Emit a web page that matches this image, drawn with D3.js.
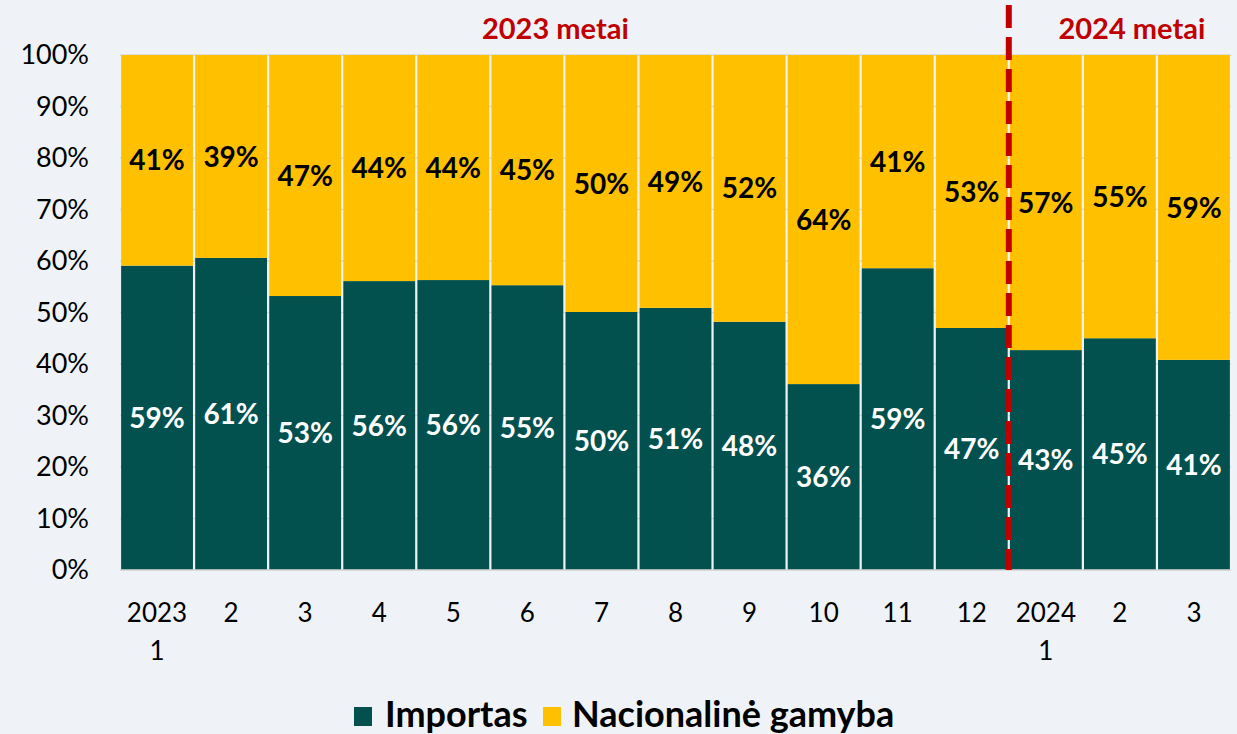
<!DOCTYPE html>
<html lang="lt">
<head>
  <meta charset="UTF-8">
  <title>Importas ir nacionalinė gamyba</title>
  <style>
    html, body { margin: 0; width: 100%; height: 100%; overflow: hidden; background: #eff3f7; }
    svg { display: block; }
  </style>
</head>
<body>
  <div id="chart"></div>
  <script src="https://cdn.jsdelivr.net/npm/d3@7"></script>
  <script>
    // mėnesiai (pirma eilutė / antra eilutė)
    const months = ['2023|1', '2', '3', '4', '5', '6', '7', '8', '9', '10', '11', '12', '2024|1', '2', '3']
    const importas = [59.1, 60.6, 53.2, 56.1, 56.3, 55.3, 50.1, 50.9, 48.2, 36.1, 58.6, 47.0, 42.7, 45.0, 40.8]
    const nacionaline = [40.9, 39.4, 46.8, 43.9, 43.7, 44.7, 49.9, 49.1, 51.8, 63.9, 41.4, 53.0, 57.3, 55.0, 59.2]
    const yTicks = [0, 10, 20, 30, 40, 50, 60, 70, 80, 90, 100]
    const seriesNames = ['Importas', 'Nacionalinė gamyba']
    const colors = ['#02514f', '#ffc000']
    const yearLabels = [
      { text: '2023 metai', from: 0, to: 11 },
      { text: '2024 metai', from: 12, to: 14 }
    ]

    const width = 1237
    const height = 734
    const margin = { top: 55, right: 6, bottom: 164, left: 120 }
    const font = 'Lato, "Open Sans", sans-serif'
    const yearShift = [-9, 12] // metų užrašai ne visai centruoti originale

    const svg = d3.select('#chart').append('svg')
      .attr('width', width)
      .attr('height', height)

    const keys = months.map((m, i) => i)
    const rows = keys.map(i => ({ i, imp: importas[i], nat: nacionaline[i] }))

    const x = d3.scaleBand()
      .domain(keys)
      .range([margin.left, width - margin.right])
      .paddingInner(0.03)
      .paddingOuter(0.015)

    const y = d3.scaleLinear()
      .domain([0, 100])
      .range([height - margin.bottom, margin.top])

    // grid
    svg.append('g')
      .selectAll('line')
      .data(yTicks)
      .join('line')
      .attr('x1', margin.left)
      .attr('x2', width - margin.right)
      .attr('y1', d => y(d))
      .attr('y2', d => y(d))
      .attr('stroke', '#d9d9d9')
      .attr('stroke-width', 1.5)

    // y axis
    const yAxis = svg.append('g')
      .attr('transform', `translate(${margin.left - 31},0)`)
      .call(d3.axisLeft(y).tickValues(yTicks).tickFormat(d => d + '%').tickSize(0).tickPadding(0))
    yAxis.select('.domain').remove()
    yAxis.selectAll('text')
      .attr('font-family', font)
      .attr('font-size', 27)
      .attr('fill', '#000')

    const stack = d3.stack().keys(['imp', 'nat'])(rows)

    const layers = svg.append('g')
      .selectAll('g')
      .data(stack)
      .join('g')
      .attr('fill', (d, i) => colors[i])

    layers.selectAll('rect')
      .data(d => d)
      .join('rect')
      .attr('x', d => x(d.data.i))
      .attr('width', x.bandwidth())
      .attr('y', d => y(d[1]))
      .attr('height', d => y(d[0]) - y(d[1]))

    // labels
    layers.each(function (layer, li) {
      d3.select(this).selectAll('text')
        .data(layer)
        .join('text')
        .attr('x', d => x(d.data.i) + x.bandwidth() / 2)
        .attr('y', d => (y(d[0]) + y(d[1])) / 2)
        .attr('dy', '0.36em')
        .attr('text-anchor', 'middle')
        .attr('font-family', font)
        .attr('font-weight', 'bold')
        .attr('font-size', 28)
        .attr('fill', li === 0 ? '#fff' : '#000')
        .text(d => Math.round(d[1] - d[0]) + '%')
    })

    // x axis
    const xAxis = svg.append('g')
      .attr('transform', `translate(0,${height - margin.bottom})`)
    xAxis.append('line')
      .attr('x1', margin.left)
      .attr('x2', width - margin.right)
      .attr('stroke', '#d9d9d9')
      .attr('stroke-width', 1.5)
    xAxis.selectAll('text')
      .data(keys)
      .join('text')
      .attr('x', d => x(d) + x.bandwidth() / 2)
      .attr('y', 52)
      .attr('text-anchor', 'middle')
      .attr('font-family', font)
      .attr('font-size', 26)
      .each(function (d) {
        const parts = months[d].split('|')
        d3.select(this).selectAll('tspan')
          .data(parts)
          .join('tspan')
          .attr('x', x(d) + x.bandwidth() / 2)
          .attr('dy', (p, j) => j === 0 ? 0 : 38)
          .text(p => p)
      })

    // dashed separator between years
    const sepX = (x(11) + x.bandwidth() + x(12)) / 2
    svg.append('line')
      .attr('x1', sepX)
      .attr('x2', sepX)
      .attr('y1', 5)
      .attr('y2', height - margin.bottom)
      .attr('stroke', '#c00000')
      .attr('stroke-width', 6)
      .attr('stroke-dasharray', '23 9')

    svg.append('g')
      .selectAll('text')
      .data(yearLabels)
      .join('text')
      .attr('x', (d, i) => (x(d.from) + x(d.to) + x.bandwidth()) / 2 + yearShift[i])
      .attr('y', 39)
      .attr('text-anchor', 'middle')
      .attr('font-family', font)
      .attr('font-weight', 'bold')
      .attr('font-size', 29)
      .attr('fill', '#c00000')
      .text(d => d.text)

    // legend
    const legend = svg.append('g')
      .attr('transform', `translate(354,727)`)
    const legendX = [0, 189]
    const items = legend.selectAll('g')
      .data(seriesNames)
      .join('g')
      .attr('transform', (d, i) => `translate(${legendX[i]},0)`)
    items.append('rect')
      .attr('y', -20)
      .attr('width', 18)
      .attr('height', 19)
      .attr('fill', (d, i) => colors[i])
    items.append('text')
      .attr('x', (d, i) => i === 0 ? 31 : 29)
      .attr('y', 0)
      .attr('font-family', font)
      .attr('font-weight', 'bold')
      .attr('font-size', 36)
      .attr('fill', '#000')
      .text(d => d)
  </script>
</body>
</html>
